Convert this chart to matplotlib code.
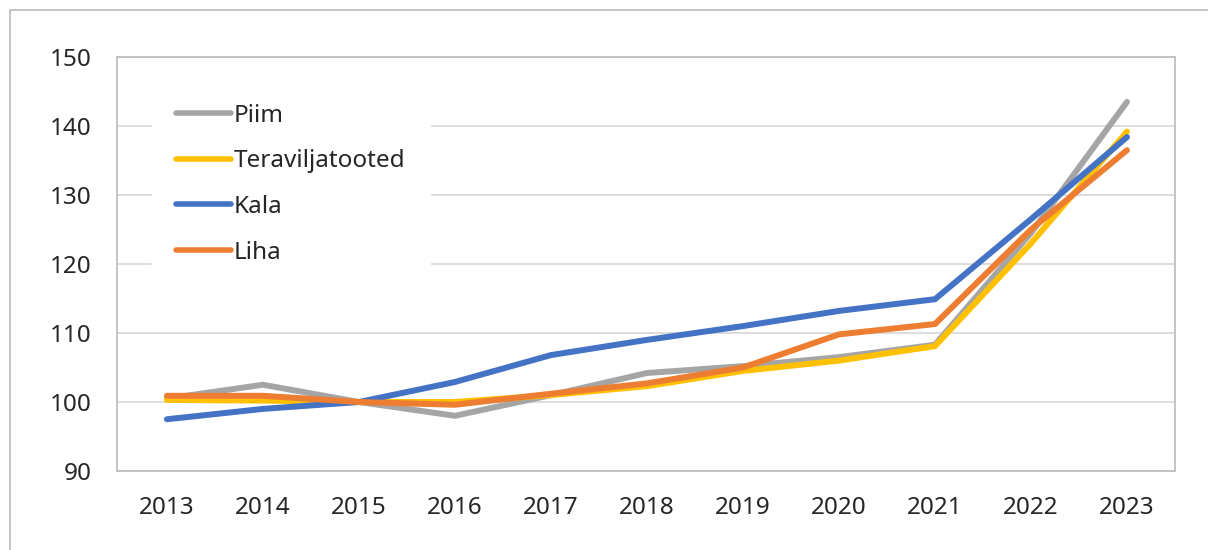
import matplotlib
matplotlib.use("Agg")
import matplotlib.pyplot as plt
from matplotlib.patches import Rectangle

years = [2013, 2014, 2015, 2016, 2017, 2018, 2019, 2020, 2021, 2022, 2023]
piim = [100.5, 102.5, 100.0, 98.0, 101.0, 104.2, 105.2, 106.5, 108.3, 124.5, 143.5]
teravili = [100.3, 100.2, 100.0, 100.0, 101.0, 102.3, 104.5, 106.0, 108.1, 123.0, 139.2]
kala = [97.5, 99.0, 100.0, 102.9, 106.8, 109.0, 111.0, 113.2, 114.9, 126.5, 138.4]
liha = [100.9, 100.9, 100.0, 99.6, 101.2, 102.7, 105.0, 109.8, 111.3, 125.0, 136.5]

series = [
    ("Piim", piim, "#A5A5A5"),
    ("Teraviljatooted", teravili, "#FFC000"),
    ("Kala", kala, "#4472C4"),
    ("Liha", liha, "#ED7D31"),
]

plt.rcParams["font.family"] = ["Noto Sans", "DejaVu Sans"]

fig = plt.figure(figsize=(12.08, 5.5), dpi=100)
ax = fig.add_axes([117 / 1208, 1 - 471 / 550, 1058 / 1208, 414 / 550])

for name, vals, col in series:
    ax.plot(years, vals, color=col, lw=4.3, label=name, solid_capstyle="round",
            solid_joinstyle="miter")

ax.set_xlim(2012.48, 2023.5)
ax.set_ylim(90, 150)
ax.set_yticks(range(90, 151, 10))
ax.set_xticks(years)
ax.grid(axis="y", color="#D9D9D9", lw=1.3)
ax.set_axisbelow(True)
ax.tick_params(length=0, labelsize=17.5, labelcolor="#262626")
ax.tick_params(axis="y", pad=18)
ax.tick_params(axis="x", pad=18)
for s in ax.spines.values():
    s.set_color("#BFBFBF")
    s.set_linewidth(1.3)

# legend sits inside the plot on a white box that hides the gridlines
leg = ax.legend(loc="upper left", bbox_to_anchor=(0.033, 0.946), fontsize=17.5,
                frameon=True, fancybox=False, edgecolor="white", framealpha=1,
                handlelength=2.26, handletextpad=0.1, labelspacing=0.89,
                borderpad=1.0, borderaxespad=0)
for h in leg.get_lines():
    h.set_linewidth(4)
for t in leg.get_texts():
    t.set_color("#262626")

fig.patches.append(Rectangle((10 / 1208, -0.1), 2, 1 - 10 / 550 + 0.1,
                             transform=fig.transFigure, fill=False,
                             edgecolor="#BFBFBF", lw=1.3))

fig.savefig("out.png", dpi=100, facecolor="white")
